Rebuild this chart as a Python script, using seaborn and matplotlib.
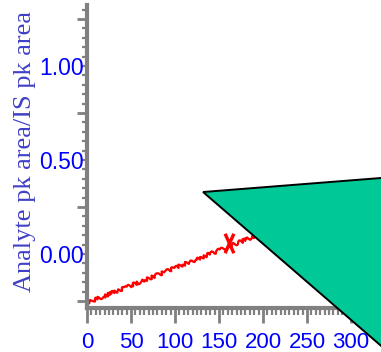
import numpy as np
import pandas as pd
import matplotlib
matplotlib.use('Agg')
import matplotlib.pyplot as plt
import matplotlib.ticker as mticker
from matplotlib.patches import Polygon
from matplotlib.path import Path
import seaborn as sns

# calibration line
conc = [0, 330]
ratio = [-0.26, 0.354]

# single measured point
pt_conc = [161]
pt_ratio = [0.058]

x_ticks = [0, 50, 100, 150, 200, 250, 300]
y_labels = [0.0, 0.5, 1.0]

sns.set_style('white')
plt.rcParams['font.family'] = ['Liberation Sans', 'DejaVu Sans']

fig = plt.figure(figsize=(3.81, 3.52), dpi=100)
ax = fig.add_axes([87 / 381, 1 - 308 / 352, 1 - 87 / 381, 303 / 352])

line_df = pd.DataFrame({'conc': conc, 'ratio': ratio})
sns.lineplot(data=line_df, x='conc', y='ratio', color='#ff0000', linewidth=1.6, ax=ax)
ax.lines[-1].set_sketch_params(scale=1.8, length=5, randomness=4)

# tall narrow x marker
xmark = Path([(-0.45, -1), (0.45, 1), (0.45, -1), (-0.45, 1)],
             [Path.MOVETO, Path.LINETO, Path.MOVETO, Path.LINETO])
ax.plot(pt_conc, pt_ratio, linestyle='none', marker=xmark, markersize=14,
        markeredgewidth=2.4, color='#ff0000')

ax.set_xlim(0, 334)
ax.set_ylim(-0.287, 1.324)

for s in ['top', 'right']:
    ax.spines[s].set_visible(False)
for s in ['left', 'bottom']:
    ax.spines[s].set_color('#808080')
    ax.spines[s].set_linewidth(3)

ax.xaxis.set_major_locator(mticker.FixedLocator(x_ticks))
ax.xaxis.set_minor_locator(mticker.MultipleLocator(5))
ax.xaxis.set_major_formatter(mticker.FormatStrFormatter('%d'))

# long y ticks between the labels, labels on the minor grid
ax.yaxis.set_major_locator(mticker.FixedLocator([-0.25, 0.25, 0.75, 1.25]))
ax.yaxis.set_major_formatter(mticker.NullFormatter())
ax.yaxis.set_minor_locator(mticker.MultipleLocator(0.05))
ax.yaxis.set_minor_formatter(mticker.FuncFormatter(
    lambda v, p: f'{v:.2f}' if any(abs(v - l) < 1e-6 for l in y_labels) else ''))

ax.tick_params(which='both', bottom=True, left=True, labelbottom=True, labelleft=True)
ax.tick_params(axis='x', which='major', direction='out', length=11, width=2,
               color='#808080', labelcolor='#0000ff', labelsize=16, pad=6)
ax.tick_params(axis='x', which='minor', direction='out', length=5, width=1.6,
               color='#808080')
ax.tick_params(axis='y', which='major', direction='out', length=7, width=2,
               color='#808080')
ax.tick_params(axis='y', which='minor', direction='out', length=3.5, width=1.6,
               color='#808080', labelcolor='#0000ff', labelsize=16.5, pad=-1)

ax.set_xlabel('')
ax.set_ylabel('Analyte pk area/IS pk area', family='Liberation Serif',
              color='#4040c8', fontsize=19, labelpad=2)
ax.yaxis.set_label_coords(-0.175, 0.515)

tri = Polygon([(0.533, 0.4545), (1.207, 0.512), (1.207, -0.176)], closed=True,
              transform=fig.transFigure, facecolor='#00c896', edgecolor='black',
              linewidth=1.4, zorder=10, clip_on=False)
fig.add_artist(tri)

fig.savefig('out.png', dpi=100)
